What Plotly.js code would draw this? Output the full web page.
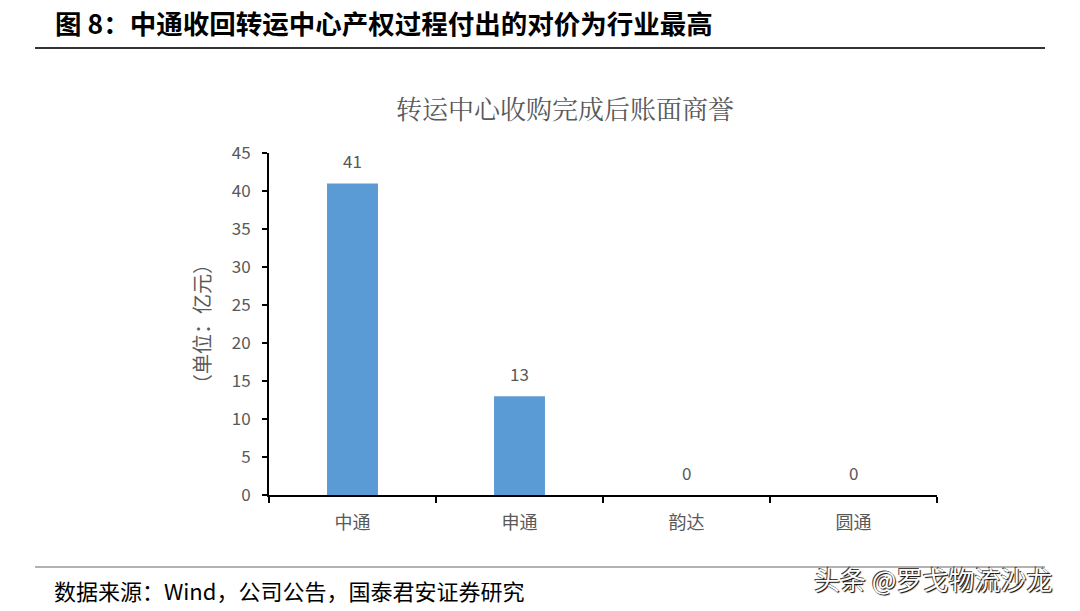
<!DOCTYPE html>
<html><head><meta charset="utf-8">
<script src="https://cdn.plot.ly/plotly-3.0.1.min.js"></script>
<style>html,body{margin:0;padding:0;background:#fff;}#chart{width:1080px;height:611px;}</style>
</head><body><div id="chart"></div>
<script>
var categories = ['中通', '申通', '韵达', '圆通'];
var goodwill = [41, 13, 0, 0];
var yTicks = [0, 5, 10, 15, 20, 25, 30, 35, 40, 45];

var cjk = '"Noto Sans CJK SC", "Noto Sans", sans-serif';
var gray = '#595959';

var trace = {
  type: 'bar', x: categories, y: goodwill,
  marker: {color: '#5B9BD5', line: {width: 0}},
  width: 0.305,
  hoverinfo: 'none'
};

var valueLabels = categories.map(function (c, i) {
  return {x: c, y: goodwill[i], xref: 'x', yref: 'y', text: String(goodwill[i]),
    showarrow: false, yanchor: 'bottom', yshift: 8,
    font: {family: cjk, size: 17, color: gray}};
});

var layout = {
  width: 1080, height: 611,
  margin: {l: 269, r: 143, t: 153, b: 116},
  paper_bgcolor: '#fff', plot_bgcolor: '#fff',
  showlegend: false,
  xaxis: {
    type: 'category', tickson: 'boundaries', ticks: 'outside', ticklen: 6, tickwidth: 1.5, tickcolor: '#000',
    showline: true, linecolor: '#000', linewidth: 2, showgrid: false, zeroline: false,
    tickfont: {family: cjk, size: 18, color: gray}, ticklabelstandoff: 10, automargin: false
  },
  yaxis: {
    range: [0, 45], tickvals: yTicks, ticktext: yTicks.map(String),
    ticks: 'outside', ticklen: 5, tickwidth: 1.5, tickcolor: '#000',
    showline: true, linecolor: '#000', linewidth: 2, showgrid: false, zeroline: false,
    tickfont: {family: cjk, size: 17, color: gray}, ticklabelstandoff: 8, automargin: false,
    title: {text: '（单位：亿元）', font: {family: cjk, size: 20, color: gray}, standoff: 16}
  },
  shapes: [
    {type: 'line', xref: 'paper', yref: 'paper', x0: -0.3503, x1: 1.1617, y0: 1.3070, y1: 1.3070, line: {color: '#333', width: 2}},
    {type: 'line', xref: 'paper', yref: 'paper', x0: -0.3503, x1: 1.1617, y0: -0.2105, y1: -0.2105, line: {color: '#999', width: 1.5}}
  ],
  annotations: valueLabels.concat([
    {xref: 'paper', yref: 'paper', x: -0.3234, y: 1.383, xanchor: 'left', yanchor: 'middle', showarrow: false,
     text: '<b>图 8：中通收回转运中心产权过程付出的对价为行业最高</b>', font: {family: cjk, size: 26.5, color: '#000'}},
    {xref: 'paper', yref: 'paper', x: 0.4431, y: 1.1345, xanchor: 'center', yanchor: 'middle', showarrow: false,
     text: '转运中心收购完成后账面商誉', font: {family: '"Noto Serif CJK SC", "Noto Sans CJK SC", serif', size: 26, color: gray}},
    {xref: 'paper', yref: 'paper', x: -0.3249, y: -0.278, xanchor: 'left', yanchor: 'middle', showarrow: false,
     text: '数据来源：Wind，公司公告，国泰君安证券研究', font: {family: cjk, size: 22, color: '#000'}},
    {xref: 'paper', yref: 'paper', x: 0.994, y: -0.2427, xanchor: 'center', yanchor: 'middle', showarrow: false,
     text: '头条 @罗戈物流沙龙', font: {family: cjk, size: 26, color: '#fff', shadow: '1px 1px 1px #000, -1px -1px 0 #444'}}
  ])
};

Plotly.newPlot('chart', [trace], layout, {displayModeBar: false, staticPlot: true});
</script></body></html>
